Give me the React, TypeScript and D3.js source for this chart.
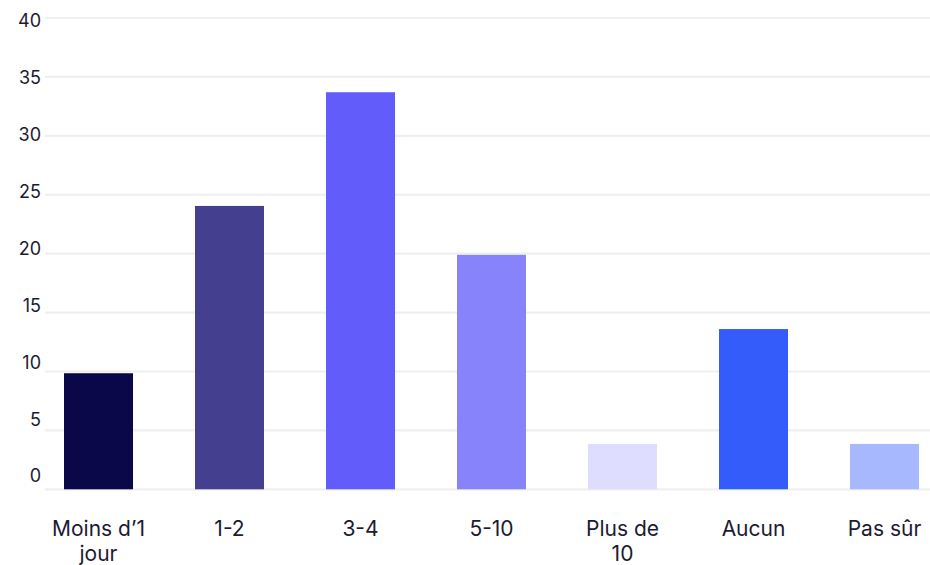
import React from "react";
import * as d3 from "d3";

const categories = ["Moins d’1\njour", "1-2", "3-4", "5-10", "Plus de\n10", "Aucun", "Pas sûr"];
const values = [9.85, 24.05, 33.7, 19.9, 3.85, 13.6, 3.85];
const barColors = ["#0a0849", "#44408f", "#625cfb", "#8783fa", "#dfddff", "#335cfb", "#a8b8ff"];
const yTicks = [0, 5, 10, 15, 20, 25, 30, 35, 40];

const W = 930;
const H = 565;

export default function App() {
  const x = d3.scaleBand<string>().domain(categories).range([33, 950]).paddingInner(0.4733).paddingOuter(0.2367);
  const y = d3.scaleLinear().domain([0, 40]).range([489.3, 18]);
  const yLabel = d3.scaleLinear().domain([0, 40]).range([476, 20.5]);
  const textColor = "#1b1a33";
  return (
    <div style={{ position: "absolute", left: 0, top: 0, width: W, height: H, background: "#fff" }}>
      <svg width={W} height={H} style={{ display: "block", fontFamily: "Inter, 'Noto Sans', sans-serif" }}>
        <rect x={0} y={0} width={W} height={H} fill="#ffffff" />
        {yTicks.map((t) => (
          <line key={"g" + t} x1={45} x2={W} y1={y(t)} y2={y(t)} stroke="#efeff2" strokeWidth={2.2} />
        ))}
        {yTicks.map((t) => (
          <text key={"l" + t} x={41} y={yLabel(t)} dy="0.36em" textAnchor="end" fontSize={18} fill={textColor}>
            {t}
          </text>
        ))}
        {categories.map((c, i) => (
          <rect
            key={"b" + i}
            x={x(c)}
            y={y(values[i])}
            width={x.bandwidth()}
            height={y(0) - y(values[i])}
            fill={barColors[i]}
          />
        ))}
        {categories.map((c, i) => {
          const lines = c.split("\n");
          const cx = (x(c) as number) + x.bandwidth() / 2;
          return (
            <text key={"x" + i} x={cx} y={536} textAnchor="middle" fontSize={21} fill={textColor}>
              {lines.map((ln, j) => (
                <tspan key={j} x={cx} dy={j === 0 ? 0 : 25}>
                  {ln}
                </tspan>
              ))}
            </text>
          );
        })}
      </svg>
    </div>
  );
}
